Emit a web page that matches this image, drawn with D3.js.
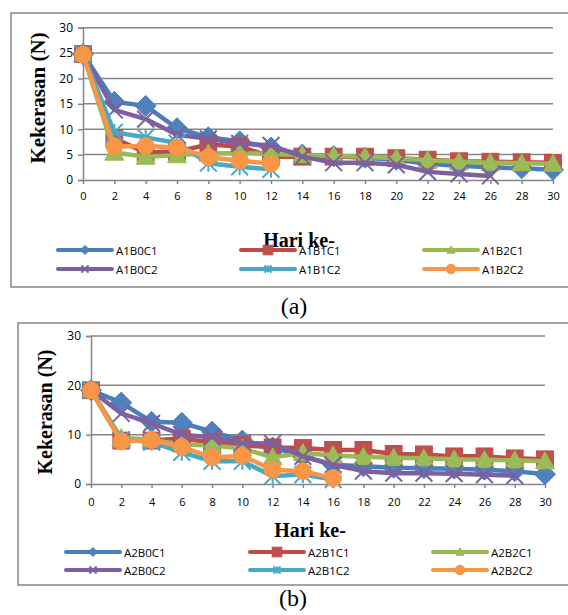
<!DOCTYPE html>
<html><head><meta charset="utf-8">
<script src="https://cdnjs.cloudflare.com/ajax/libs/d3/7.8.5/d3.min.js"></script>
<style>body{margin:0;background:#fff}svg{display:block}</style>
</head><body><svg id="c" width="568" height="615"></svg>
<script>
// ---- data ----
const days = [0,2,4,6,8,10,12,14,16,18,20,22,24,26,28,30];
const xTicks = [0,2,4,6,8,10,12,14,16,18,20,22,24,26,28,30];
const yTicksA = [0,5,10,15,20,25,30];
const yTicksB = [0,10,20,30];
const namesA = ["A1B0C1","A1B1C1","A1B2C1","A1B0C2","A1B1C2","A1B2C2"];
const namesB = ["A2B0C1","A2B1C1","A2B2C1","A2B0C2","A2B1C2","A2B2C2"];
// chart (a)
const a_B0C1 = [24.8,15.4,14.6,10.2,8.4,7.6,6.4,5.0,4.7,4.4,4.0,3.2,2.8,2.5,2.3,2.0];
const a_B1C1 = [24.8,8.2,5.4,5.6,7.0,6.6,4.6,4.6,4.6,4.6,4.3,4.0,3.7,3.6,3.5,3.4];
const a_B2C1 = [24.8,5.4,4.6,4.9,5.2,5.3,5.1,4.9,4.8,4.6,4.3,3.9,3.6,3.4,3.3,3.2];
const a_B0C2 = [24.8,13.8,12.0,8.9,8.1,7.2,6.8,4.6,3.4,3.4,3.0,1.6,1.2,0.8];
const a_B1C2 = [24.8,9.4,8.4,7.3,3.3,2.6,2.1];
const a_B2C2 = [24.7,6.6,6.7,6.4,4.5,3.8,3.2];
// chart (b)
const b_B0C1 = [19.0,16.5,12.6,12.4,10.6,8.8,7.4,5.6,3.9,3.6,3.3,3.2,3.1,2.9,2.6,2.0];
const b_B1C1 = [19.0,8.8,8.8,9.2,8.4,7.9,7.4,7.3,6.9,6.9,6.1,6.0,5.6,5.6,5.2,5.0];
const b_B2C1 = [19.0,9.3,9.0,8.0,7.8,7.2,5.4,6.3,5.8,5.5,5.3,5.2,5.0,4.9,4.8,4.6];
const b_B0C2 = [19.0,14.3,12.3,10.0,9.5,8.3,8.2,5.6,3.9,2.6,2.2,2.2,2.1,1.9,1.7];
const b_B1C2 = [19.0,9.0,8.5,6.4,4.6,4.6,1.6,1.9,0.9];
const b_B2C2 = [19.0,8.6,8.9,7.5,5.4,5.7,2.9,2.6,1.2];

const colors = ["#4A7EBB","#BE4B48","#98B954","#7D60A0","#46AAC5","#F79646"];
const fills  = ["#4F81BD","#C0504D","#9BBB59","#8064A2","#4BACC6","#F79646"];
const markers = ["diamond","square","triangle","x","star","circle"];

const svg = d3.select("#c");

function drawMarker(g, type, cx, cy, s, col, fill){
  if(type==="diamond"){
    g.append("path").attr("d",`M${cx},${cy-s}L${cx+s},${cy}L${cx},${cy+s}L${cx-s},${cy}Z`).attr("fill",fill).attr("stroke",col).attr("stroke-width",1);
  } else if(type==="square"){
    const h=s*0.8;
    g.append("rect").attr("x",cx-h).attr("y",cy-h).attr("width",2*h).attr("height",2*h).attr("fill",fill).attr("stroke",col).attr("stroke-width",1);
  } else if(type==="triangle"){
    const h=s*0.9;
    g.append("path").attr("d",`M${cx},${cy-h}L${cx+h},${cy+h*0.8}L${cx-h},${cy+h*0.8}Z`).attr("fill",fill).attr("stroke",col).attr("stroke-width",1);
  } else if(type==="circle"){
    g.append("circle").attr("cx",cx).attr("cy",cy).attr("r",s*0.8).attr("fill",fill).attr("stroke",col).attr("stroke-width",1);
  } else if(type==="x"){
    const h=s*0.8;
    g.append("path").attr("d",`M${cx-h},${cy-h}L${cx+h},${cy+h}M${cx-h},${cy+h}L${cx+h},${cy-h}`).attr("stroke",col).attr("stroke-width",2).attr("fill","none");
  } else if(type==="star"){
    const h=s*0.8;
    g.append("path").attr("d",`M${cx-h},${cy-h}L${cx+h},${cy+h}M${cx-h},${cy+h}L${cx+h},${cy-h}M${cx},${cy-h}L${cx},${cy+h}`).attr("stroke",col).attr("stroke-width",2).attr("fill","none");
  }
}

function chart(cfg){
  const g = svg.append("g");
  // frame
  g.append("rect").attr("x",cfg.fx).attr("y",cfg.fy).attr("width",620).attr("height",cfg.fh)
    .attr("fill","none").attr("stroke","#868686").attr("stroke-width",1.5);
  const x = d3.scaleLinear().domain([0,30]).range([cfg.x0,cfg.x1]);
  const y = d3.scaleLinear().domain([0,30]).range([cfg.y0,cfg.y30]);
  // gridlines
  g.append("g").selectAll("line").data(cfg.yTicks.filter(d=>d>0)).join("line")
    .attr("x1",cfg.x0).attr("x2",cfg.x1).attr("y1",d=>y(d)).attr("y2",d=>y(d))
    .attr("stroke","#868686").attr("stroke-width",1.5);
  // y axis
  const ya = g.append("g").attr("transform",`translate(${cfg.x0},0)`)
    .call(d3.axisLeft(y).tickValues(cfg.yTicks).tickSize(5).tickPadding(5));
  ya.select(".domain").attr("stroke","#868686").attr("stroke-width",1.5);
  ya.selectAll(".tick line").attr("stroke","#868686").attr("stroke-width",1.5);
  ya.selectAll("text").attr("font-family","Open Sans").attr("font-size",12).attr("fill","#000");
  // x axis
  const xa = g.append("g").attr("transform",`translate(0,${cfg.y0})`)
    .call(d3.axisBottom(x).tickValues(xTicks).tickSize(4).tickPadding(cfg.xpad).tickSizeOuter(0));
  xa.select(".domain").attr("stroke","#868686").attr("stroke-width",1.5);
  xa.selectAll(".tick line").attr("stroke","#868686").attr("stroke-width",1.5);
  xa.selectAll("text").attr("font-family","Open Sans").attr("font-size",11).attr("fill","#000");
  // series
  cfg.series.forEach((vals,i)=>{
    const pts = vals.map((v,j)=>[days[j],v]);
    const sg = g.append("g");
    sg.append("path").datum(pts)
      .attr("d",d3.line().x(d=>x(d[0])).y(d=>y(d[1])))
      .attr("fill","none").attr("stroke",colors[i]).attr("stroke-width",4.5).attr("stroke-linejoin","round");
    pts.forEach(p=>drawMarker(sg,markers[i],x(p[0]),y(p[1]),10.5,colors[i],fills[i]));
  });
  // axis titles
  g.append("text").attr("x",cfg.xlx).attr("y",cfg.xly).attr("text-anchor","middle").attr("dominant-baseline","central")
    .attr("font-family","Liberation Serif").attr("font-weight","bold").attr("font-size",20).text("Hari ke-");
  g.append("text").attr("transform",`translate(${cfg.ylx},${cfg.yly}) rotate(-90)`).attr("text-anchor","middle").attr("dominant-baseline","central")
    .attr("font-family","Liberation Serif").attr("font-weight","bold").attr("font-size",cfg.ylfs).text("Kekerasan (N)");
  // legend
  cfg.names.forEach((n,i)=>{
    const col=i%3, row=Math.floor(i/3);
    const lx=cfg.legCols[col], ly=cfg.legRows[row];
    const lg=g.append("g");
    lg.append("line").attr("x1",lx).attr("x2",lx+54).attr("y1",ly).attr("y2",ly)
      .attr("stroke",colors[i]).attr("stroke-width",4).attr("stroke-linecap","round");
    drawMarker(lg,markers[i],lx+27,ly,i===1?6:(i===5?6:4.5),colors[i],fills[i]);
    lg.append("text").attr("x",lx+58).attr("y",ly).attr("dominant-baseline","central")
      .attr("font-family","Open Sans").attr("font-size",11.5).text(n);
  });
  g.append("text").attr("x",cfg.capx).attr("y",cfg.capy).attr("text-anchor","middle")
    .attr("font-family","Liberation Serif").attr("font-size",24).text(cfg.cap);
}

chart({fx:11,fy:13,fh:274,x0:83,x1:553,y0:180,y30:27.7,yTicks:yTicksA,xpad:8,
  series:[a_B0C1,a_B1C1,a_B2C1,a_B0C2,a_B1C2,a_B2C2],names:namesA,
  xlx:299,xly:240,ylx:38,yly:98,ylfs:21,
  legCols:[58,241,424],legRows:[250,269],cap:"(a)",capx:294,capy:314});
chart({fx:18,fy:323,fh:262,x0:91,x1:545,y0:484,y30:336,yTicks:yTicksB,xpad:10,
  series:[b_B0C1,b_B1C1,b_B2C1,b_B0C2,b_B1C2,b_B2C2],names:namesB,
  xlx:310,xly:530,ylx:45,yly:412,ylfs:20,
  legCols:[66,250,433],legRows:[552,570],cap:"(b)",capx:293,capy:606});
</script></body></html>
